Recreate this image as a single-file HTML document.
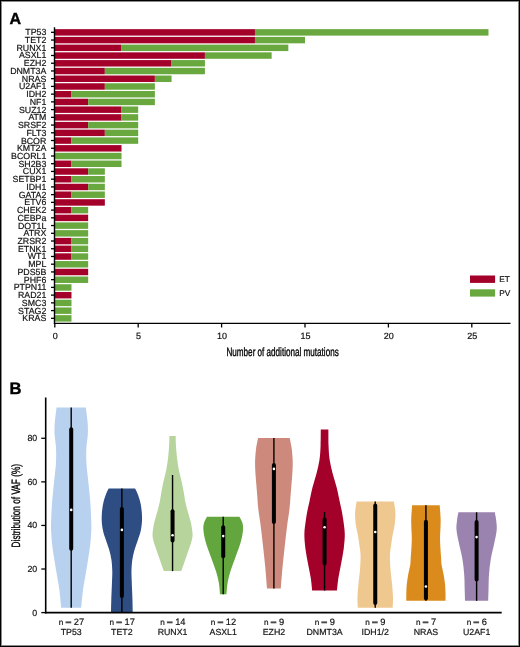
<!DOCTYPE html><html><head><meta charset="utf-8"><style>
html,body{margin:0;padding:0;background:#fff;}
svg{display:block;will-change:transform;}
text{font-family:"Liberation Sans",sans-serif;fill:#111;stroke:#111;stroke-width:0.18px;text-rendering:geometricPrecision;}
</style></head><body>
<svg width="520" height="647" viewBox="0 0 520 647">
<rect x="0" y="0" width="520" height="647" fill="#fff"/>
<rect x="1.5" y="1.5" width="517" height="644" fill="none" stroke="#8a8a8a" stroke-width="1"/>
<rect x="0.5" y="0.5" width="519" height="646" fill="none" stroke="#000" stroke-width="1"/>
<text x="9.6" y="24.2" style="font-size:16px;font-weight:bold;fill:#000;stroke:#000;stroke-width:0.4">A</text>
<rect x="54.80" y="29.15" width="200.16" height="6.45" fill="#A3002A"/>
<rect x="254.96" y="29.15" width="233.52" height="6.45" fill="#68A83F"/>
<line x1="51" y1="32.30" x2="54.5" y2="32.30" stroke="#000" stroke-width="1.3"/>
<text x="46.3" y="35.30" text-anchor="end" style="font-size:8.8px">TP53</text>
<rect x="54.80" y="36.88" width="200.16" height="6.45" fill="#A3002A"/>
<rect x="254.96" y="36.88" width="50.04" height="6.45" fill="#68A83F"/>
<line x1="51" y1="40.03" x2="54.5" y2="40.03" stroke="#000" stroke-width="1.3"/>
<text x="46.3" y="43.03" text-anchor="end" style="font-size:8.8px">TET2</text>
<rect x="54.80" y="44.61" width="66.72" height="6.45" fill="#A3002A"/>
<rect x="121.52" y="44.61" width="166.80" height="6.45" fill="#68A83F"/>
<line x1="51" y1="47.76" x2="54.5" y2="47.76" stroke="#000" stroke-width="1.3"/>
<text x="46.3" y="50.76" text-anchor="end" style="font-size:8.8px">RUNX1</text>
<rect x="54.80" y="52.34" width="150.12" height="6.45" fill="#A3002A"/>
<rect x="204.92" y="52.34" width="66.72" height="6.45" fill="#68A83F"/>
<line x1="51" y1="55.49" x2="54.5" y2="55.49" stroke="#000" stroke-width="1.3"/>
<text x="46.3" y="58.49" text-anchor="end" style="font-size:8.8px">ASXL1</text>
<rect x="54.80" y="60.07" width="116.76" height="6.45" fill="#A3002A"/>
<rect x="171.56" y="60.07" width="33.36" height="6.45" fill="#68A83F"/>
<line x1="51" y1="63.22" x2="54.5" y2="63.22" stroke="#000" stroke-width="1.3"/>
<text x="46.3" y="66.22" text-anchor="end" style="font-size:8.8px">EZH2</text>
<rect x="54.80" y="67.80" width="50.04" height="6.45" fill="#A3002A"/>
<rect x="104.84" y="67.80" width="100.08" height="6.45" fill="#68A83F"/>
<line x1="51" y1="70.95" x2="54.5" y2="70.95" stroke="#000" stroke-width="1.3"/>
<text x="46.3" y="73.95" text-anchor="end" style="font-size:8.8px">DNMT3A</text>
<rect x="54.80" y="75.53" width="100.08" height="6.45" fill="#A3002A"/>
<rect x="154.88" y="75.53" width="16.68" height="6.45" fill="#68A83F"/>
<line x1="51" y1="78.68" x2="54.5" y2="78.68" stroke="#000" stroke-width="1.3"/>
<text x="46.3" y="81.68" text-anchor="end" style="font-size:8.8px">NRAS</text>
<rect x="54.80" y="83.26" width="50.04" height="6.45" fill="#A3002A"/>
<rect x="104.84" y="83.26" width="50.04" height="6.45" fill="#68A83F"/>
<line x1="51" y1="86.41" x2="54.5" y2="86.41" stroke="#000" stroke-width="1.3"/>
<text x="46.3" y="89.41" text-anchor="end" style="font-size:8.8px">U2AF1</text>
<rect x="54.80" y="90.99" width="16.68" height="6.45" fill="#A3002A"/>
<rect x="71.48" y="90.99" width="83.40" height="6.45" fill="#68A83F"/>
<line x1="51" y1="94.14" x2="54.5" y2="94.14" stroke="#000" stroke-width="1.3"/>
<text x="46.3" y="97.14" text-anchor="end" style="font-size:8.8px">IDH2</text>
<rect x="54.80" y="98.72" width="33.36" height="6.45" fill="#A3002A"/>
<rect x="88.16" y="98.72" width="66.72" height="6.45" fill="#68A83F"/>
<line x1="51" y1="101.87" x2="54.5" y2="101.87" stroke="#000" stroke-width="1.3"/>
<text x="46.3" y="104.87" text-anchor="end" style="font-size:8.8px">NF1</text>
<rect x="54.80" y="106.45" width="66.72" height="6.45" fill="#A3002A"/>
<rect x="121.52" y="106.45" width="16.68" height="6.45" fill="#68A83F"/>
<line x1="51" y1="109.60" x2="54.5" y2="109.60" stroke="#000" stroke-width="1.3"/>
<text x="46.3" y="112.60" text-anchor="end" style="font-size:8.8px">SUZ12</text>
<rect x="54.80" y="114.18" width="66.72" height="6.45" fill="#A3002A"/>
<rect x="121.52" y="114.18" width="16.68" height="6.45" fill="#68A83F"/>
<line x1="51" y1="117.33" x2="54.5" y2="117.33" stroke="#000" stroke-width="1.3"/>
<text x="46.3" y="120.33" text-anchor="end" style="font-size:8.8px">ATM</text>
<rect x="54.80" y="121.91" width="33.36" height="6.45" fill="#A3002A"/>
<rect x="88.16" y="121.91" width="50.04" height="6.45" fill="#68A83F"/>
<line x1="51" y1="125.06" x2="54.5" y2="125.06" stroke="#000" stroke-width="1.3"/>
<text x="46.3" y="128.06" text-anchor="end" style="font-size:8.8px">SRSF2</text>
<rect x="54.80" y="129.64" width="50.04" height="6.45" fill="#A3002A"/>
<rect x="104.84" y="129.64" width="33.36" height="6.45" fill="#68A83F"/>
<line x1="51" y1="132.79" x2="54.5" y2="132.79" stroke="#000" stroke-width="1.3"/>
<text x="46.3" y="135.79" text-anchor="end" style="font-size:8.8px">FLT3</text>
<rect x="54.80" y="137.37" width="16.68" height="6.45" fill="#A3002A"/>
<rect x="71.48" y="137.37" width="66.72" height="6.45" fill="#68A83F"/>
<line x1="51" y1="140.52" x2="54.5" y2="140.52" stroke="#000" stroke-width="1.3"/>
<text x="46.3" y="143.52" text-anchor="end" style="font-size:8.8px">BCOR</text>
<rect x="54.80" y="145.10" width="66.72" height="6.45" fill="#A3002A"/>
<line x1="51" y1="148.25" x2="54.5" y2="148.25" stroke="#000" stroke-width="1.3"/>
<text x="46.3" y="151.25" text-anchor="end" style="font-size:8.8px">KMT2A</text>
<rect x="54.80" y="152.83" width="66.72" height="6.45" fill="#68A83F"/>
<line x1="51" y1="155.98" x2="54.5" y2="155.98" stroke="#000" stroke-width="1.3"/>
<text x="46.3" y="158.98" text-anchor="end" style="font-size:8.8px">BCORL1</text>
<rect x="54.80" y="160.56" width="16.68" height="6.45" fill="#A3002A"/>
<rect x="71.48" y="160.56" width="50.04" height="6.45" fill="#68A83F"/>
<line x1="51" y1="163.71" x2="54.5" y2="163.71" stroke="#000" stroke-width="1.3"/>
<text x="46.3" y="166.71" text-anchor="end" style="font-size:8.8px">SH2B3</text>
<rect x="54.80" y="168.29" width="33.36" height="6.45" fill="#A3002A"/>
<rect x="88.16" y="168.29" width="16.68" height="6.45" fill="#68A83F"/>
<line x1="51" y1="171.44" x2="54.5" y2="171.44" stroke="#000" stroke-width="1.3"/>
<text x="46.3" y="174.44" text-anchor="end" style="font-size:8.8px">CUX1</text>
<rect x="54.80" y="176.02" width="16.68" height="6.45" fill="#A3002A"/>
<rect x="71.48" y="176.02" width="33.36" height="6.45" fill="#68A83F"/>
<line x1="51" y1="179.17" x2="54.5" y2="179.17" stroke="#000" stroke-width="1.3"/>
<text x="46.3" y="182.17" text-anchor="end" style="font-size:8.8px">SETBP1</text>
<rect x="54.80" y="183.75" width="33.36" height="6.45" fill="#A3002A"/>
<rect x="88.16" y="183.75" width="16.68" height="6.45" fill="#68A83F"/>
<line x1="51" y1="186.90" x2="54.5" y2="186.90" stroke="#000" stroke-width="1.3"/>
<text x="46.3" y="189.90" text-anchor="end" style="font-size:8.8px">IDH1</text>
<rect x="54.80" y="191.48" width="16.68" height="6.45" fill="#A3002A"/>
<rect x="71.48" y="191.48" width="33.36" height="6.45" fill="#68A83F"/>
<line x1="51" y1="194.63" x2="54.5" y2="194.63" stroke="#000" stroke-width="1.3"/>
<text x="46.3" y="197.63" text-anchor="end" style="font-size:8.8px">GATA2</text>
<rect x="54.80" y="199.21" width="50.04" height="6.45" fill="#A3002A"/>
<line x1="51" y1="202.36" x2="54.5" y2="202.36" stroke="#000" stroke-width="1.3"/>
<text x="46.3" y="205.36" text-anchor="end" style="font-size:8.8px">ETV6</text>
<rect x="54.80" y="206.94" width="16.68" height="6.45" fill="#A3002A"/>
<rect x="71.48" y="206.94" width="16.68" height="6.45" fill="#68A83F"/>
<line x1="51" y1="210.09" x2="54.5" y2="210.09" stroke="#000" stroke-width="1.3"/>
<text x="46.3" y="213.09" text-anchor="end" style="font-size:8.8px">CHEK2</text>
<rect x="54.80" y="214.67" width="33.36" height="6.45" fill="#A3002A"/>
<line x1="51" y1="217.82" x2="54.5" y2="217.82" stroke="#000" stroke-width="1.3"/>
<text x="46.3" y="220.82" text-anchor="end" style="font-size:8.8px">CEBPa</text>
<rect x="54.80" y="222.40" width="33.36" height="6.45" fill="#68A83F"/>
<line x1="51" y1="225.55" x2="54.5" y2="225.55" stroke="#000" stroke-width="1.3"/>
<text x="46.3" y="228.55" text-anchor="end" style="font-size:8.8px">DOT1L</text>
<rect x="54.80" y="230.13" width="33.36" height="6.45" fill="#68A83F"/>
<line x1="51" y1="233.28" x2="54.5" y2="233.28" stroke="#000" stroke-width="1.3"/>
<text x="46.3" y="236.28" text-anchor="end" style="font-size:8.8px">ATRX</text>
<rect x="54.80" y="237.86" width="16.68" height="6.45" fill="#A3002A"/>
<rect x="71.48" y="237.86" width="16.68" height="6.45" fill="#68A83F"/>
<line x1="51" y1="241.01" x2="54.5" y2="241.01" stroke="#000" stroke-width="1.3"/>
<text x="46.3" y="244.01" text-anchor="end" style="font-size:8.8px">ZRSR2</text>
<rect x="54.80" y="245.59" width="16.68" height="6.45" fill="#A3002A"/>
<rect x="71.48" y="245.59" width="16.68" height="6.45" fill="#68A83F"/>
<line x1="51" y1="248.74" x2="54.5" y2="248.74" stroke="#000" stroke-width="1.3"/>
<text x="46.3" y="251.74" text-anchor="end" style="font-size:8.8px">ETNK1</text>
<rect x="54.80" y="253.32" width="16.68" height="6.45" fill="#A3002A"/>
<rect x="71.48" y="253.32" width="16.68" height="6.45" fill="#68A83F"/>
<line x1="51" y1="256.47" x2="54.5" y2="256.47" stroke="#000" stroke-width="1.3"/>
<text x="46.3" y="259.47" text-anchor="end" style="font-size:8.8px">WT1</text>
<rect x="54.80" y="261.05" width="33.36" height="6.45" fill="#68A83F"/>
<line x1="51" y1="264.20" x2="54.5" y2="264.20" stroke="#000" stroke-width="1.3"/>
<text x="46.3" y="267.20" text-anchor="end" style="font-size:8.8px">MPL</text>
<rect x="54.80" y="268.78" width="33.36" height="6.45" fill="#A3002A"/>
<line x1="51" y1="271.93" x2="54.5" y2="271.93" stroke="#000" stroke-width="1.3"/>
<text x="46.3" y="274.93" text-anchor="end" style="font-size:8.8px">PDS5B</text>
<rect x="54.80" y="276.51" width="33.36" height="6.45" fill="#68A83F"/>
<line x1="51" y1="279.66" x2="54.5" y2="279.66" stroke="#000" stroke-width="1.3"/>
<text x="46.3" y="282.66" text-anchor="end" style="font-size:8.8px">PHF6</text>
<rect x="54.80" y="284.24" width="16.68" height="6.45" fill="#68A83F"/>
<line x1="51" y1="287.39" x2="54.5" y2="287.39" stroke="#000" stroke-width="1.3"/>
<text x="46.3" y="290.39" text-anchor="end" style="font-size:8.8px">PTPN11</text>
<rect x="54.80" y="291.97" width="16.68" height="6.45" fill="#A3002A"/>
<line x1="51" y1="295.12" x2="54.5" y2="295.12" stroke="#000" stroke-width="1.3"/>
<text x="46.3" y="298.12" text-anchor="end" style="font-size:8.8px">RAD21</text>
<rect x="54.80" y="299.70" width="16.68" height="6.45" fill="#68A83F"/>
<line x1="51" y1="302.85" x2="54.5" y2="302.85" stroke="#000" stroke-width="1.3"/>
<text x="46.3" y="305.85" text-anchor="end" style="font-size:8.8px">SMC3</text>
<rect x="54.80" y="307.43" width="16.68" height="6.45" fill="#68A83F"/>
<line x1="51" y1="310.58" x2="54.5" y2="310.58" stroke="#000" stroke-width="1.3"/>
<text x="46.3" y="313.58" text-anchor="end" style="font-size:8.8px">STAG2</text>
<rect x="54.80" y="315.16" width="16.68" height="6.45" fill="#68A83F"/>
<line x1="51" y1="318.31" x2="54.5" y2="318.31" stroke="#000" stroke-width="1.3"/>
<text x="46.3" y="321.31" text-anchor="end" style="font-size:8.8px">KRAS</text>
<line x1="54.5" y1="27.3" x2="54.5" y2="324.0" stroke="#000" stroke-width="1.4"/>
<line x1="53.9" y1="323.4" x2="510.5" y2="323.4" stroke="#000" stroke-width="1.3"/>
<line x1="54.80" y1="323.4" x2="54.80" y2="327.5" stroke="#000" stroke-width="1.3"/>
<text x="55.20" y="339.0" text-anchor="middle" style="font-size:9px">0</text>
<line x1="138.20" y1="323.4" x2="138.20" y2="327.5" stroke="#000" stroke-width="1.3"/>
<text x="138.60" y="339.0" text-anchor="middle" style="font-size:9px">5</text>
<line x1="221.60" y1="323.4" x2="221.60" y2="327.5" stroke="#000" stroke-width="1.3"/>
<text x="222.00" y="339.0" text-anchor="middle" style="font-size:9px">10</text>
<line x1="305.00" y1="323.4" x2="305.00" y2="327.5" stroke="#000" stroke-width="1.3"/>
<text x="305.40" y="339.0" text-anchor="middle" style="font-size:9px">15</text>
<line x1="388.40" y1="323.4" x2="388.40" y2="327.5" stroke="#000" stroke-width="1.3"/>
<text x="388.80" y="339.0" text-anchor="middle" style="font-size:9px">20</text>
<line x1="471.80" y1="323.4" x2="471.80" y2="327.5" stroke="#000" stroke-width="1.3"/>
<text x="472.20" y="339.0" text-anchor="middle" style="font-size:9px">25</text>
<rect x="470" y="275.5" width="25.1" height="7.4" fill="#A3002A"/>
<rect x="470" y="289.3" width="25.1" height="7.3" fill="#68A83F"/>
<text x="499.3" y="281.9" style="font-size:8.3px">ET</text>
<text x="499.3" y="296.1" style="font-size:8.3px">PV</text>
<text x="226.5" y="355.7" style="font-size:12px;fill:#000;stroke:#000;stroke-width:0.35" textLength="112.2" lengthAdjust="spacingAndGlyphs">Number of additional mutations</text>
<text x="9.5" y="393.6" style="font-size:16.6px;font-weight:bold;fill:#000;stroke:#000;stroke-width:0.4">B</text>
<line x1="41.3" y1="612.60" x2="45.7" y2="612.60" stroke="#000" stroke-width="1.3"/>
<text x="37.2" y="615.50" text-anchor="end" style="font-size:8.8px">0</text>
<line x1="41.3" y1="569.02" x2="45.7" y2="569.02" stroke="#000" stroke-width="1.3"/>
<text x="37.2" y="571.92" text-anchor="end" style="font-size:8.8px">20</text>
<line x1="41.3" y1="525.44" x2="45.7" y2="525.44" stroke="#000" stroke-width="1.3"/>
<text x="37.2" y="528.34" text-anchor="end" style="font-size:8.8px">40</text>
<line x1="41.3" y1="481.86" x2="45.7" y2="481.86" stroke="#000" stroke-width="1.3"/>
<text x="37.2" y="484.76" text-anchor="end" style="font-size:8.8px">60</text>
<line x1="41.3" y1="438.28" x2="45.7" y2="438.28" stroke="#000" stroke-width="1.3"/>
<text x="37.2" y="441.18" text-anchor="end" style="font-size:8.8px">80</text>
<text transform="translate(19.7,547.4) rotate(-90)" style="font-size:12.1px;fill:#000;stroke:#000;stroke-width:0.35" textLength="83.4" lengthAdjust="spacingAndGlyphs">Distribution of VAF (%)</text>
<path d="M71.20,407.50 L85.80,407.50 C85.97,408.75 86.47,412.08 86.80,415.00 C87.13,417.92 87.63,421.67 87.80,425.00 C87.97,428.33 88.00,431.67 87.80,435.00 C87.60,438.33 86.87,441.67 86.60,445.00 C86.33,448.33 86.20,451.67 86.20,455.00 C86.20,458.33 86.37,461.67 86.60,465.00 C86.83,468.33 87.17,470.83 87.60,475.00 C88.03,479.17 88.72,485.00 89.20,490.00 C89.68,495.00 90.17,500.00 90.50,505.00 C90.83,510.00 91.07,515.83 91.20,520.00 C91.33,524.17 91.47,525.83 91.30,530.00 C91.13,534.17 90.75,540.00 90.20,545.00 C89.65,550.00 88.78,555.00 88.00,560.00 C87.22,565.00 86.33,570.00 85.50,575.00 C84.67,580.00 83.72,584.55 83.00,590.00 C82.28,595.45 81.50,604.75 81.20,607.70 L61.20,607.70 C60.90,604.75 60.12,595.45 59.40,590.00 C58.68,584.55 57.73,580.00 56.90,575.00 C56.07,570.00 55.18,565.00 54.40,560.00 C53.62,555.00 52.75,550.00 52.20,545.00 C51.65,540.00 51.27,534.17 51.10,530.00 C50.93,525.83 51.07,524.17 51.20,520.00 C51.33,515.83 51.57,510.00 51.90,505.00 C52.23,500.00 52.72,495.00 53.20,490.00 C53.68,485.00 54.37,479.17 54.80,475.00 C55.23,470.83 55.57,468.33 55.80,465.00 C56.03,461.67 56.20,458.33 56.20,455.00 C56.20,451.67 56.07,448.33 55.80,445.00 C55.53,441.67 54.80,438.33 54.60,435.00 C54.40,431.67 54.43,428.33 54.60,425.00 C54.77,421.67 55.27,417.92 55.60,415.00 C55.93,412.08 56.43,408.75 56.60,407.50 Z" fill="#B8D1EF"/>
<line x1="71.20" y1="407.4" x2="71.20" y2="607.7" stroke="#000" stroke-width="1.4"/>
<line x1="71.20" y1="429.2" x2="71.20" y2="548.8" stroke="#000" stroke-width="4" stroke-linecap="round"/>
<circle cx="71.20" cy="509.9" r="1.3" fill="#fff"/>
<text x="58.85" y="624.9" style="font-size:8.2px">n</text>
<rect x="65.55" y="621.4" width="5.7" height="1.9" fill="#4a4a4a"/>
<text x="73.85" y="624.9" style="font-size:9.3px">27</text>
<text x="71.20" y="635.3" text-anchor="middle" style="font-size:8.8px">TP53</text>
<path d="M121.88,488.60 L135.07,488.60 C135.57,489.67 137.11,492.27 138.07,495.00 C139.04,497.73 140.21,501.17 140.88,505.00 C141.54,508.83 142.07,513.83 142.07,518.00 C142.07,522.17 141.57,526.33 140.88,530.00 C140.18,533.67 138.94,536.67 137.88,540.00 C136.81,543.33 135.41,546.67 134.47,550.00 C133.54,553.33 132.78,556.50 132.28,560.00 C131.78,563.50 131.57,567.67 131.47,571.00 C131.38,574.33 131.58,576.83 131.68,580.00 C131.78,583.17 131.94,586.67 132.07,590.00 C132.21,593.33 132.36,596.23 132.47,600.00 C132.59,603.77 132.72,610.50 132.78,612.60 L110.97,612.60 C111.02,610.50 111.16,603.77 111.28,600.00 C111.39,596.23 111.54,593.33 111.67,590.00 C111.81,586.67 111.97,583.17 112.08,580.00 C112.18,576.83 112.38,574.33 112.28,571.00 C112.18,567.67 111.97,563.50 111.47,560.00 C110.97,556.50 110.21,553.33 109.28,550.00 C108.34,546.67 106.94,543.33 105.88,540.00 C104.81,536.67 103.58,533.67 102.88,530.00 C102.17,526.33 101.67,522.17 101.67,518.00 C101.67,513.83 102.21,508.83 102.88,505.00 C103.54,501.17 104.71,497.73 105.67,495.00 C106.64,492.27 108.17,489.67 108.67,488.60 Z" fill="#2E4D82"/>
<line x1="121.88" y1="488.6" x2="121.88" y2="612.6" stroke="#000" stroke-width="1.4"/>
<line x1="121.88" y1="509" x2="121.88" y2="596" stroke="#000" stroke-width="4" stroke-linecap="round"/>
<circle cx="121.88" cy="529.9" r="1.3" fill="#fff"/>
<text x="109.53" y="624.9" style="font-size:8.2px">n</text>
<rect x="116.23" y="621.4" width="5.7" height="1.9" fill="#4a4a4a"/>
<text x="124.53" y="624.9" style="font-size:9.3px">17</text>
<text x="121.88" y="635.3" text-anchor="middle" style="font-size:8.8px">TET2</text>
<path d="M172.55,436.00 L175.65,436.00 C175.72,437.83 175.80,443.17 176.05,447.00 C176.30,450.83 176.67,455.07 177.15,459.00 C177.63,462.93 178.18,466.77 178.95,470.60 C179.72,474.43 180.90,478.10 181.75,482.00 C182.60,485.90 183.45,490.67 184.05,494.00 C184.65,497.33 184.73,499.07 185.35,502.00 C185.97,504.93 186.82,508.10 187.75,511.60 C188.68,515.10 190.22,519.93 190.95,523.00 C191.68,526.07 191.88,528.00 192.15,530.00 C192.42,532.00 192.58,533.42 192.55,535.00 C192.52,536.58 192.38,537.62 191.95,539.50 C191.52,541.38 190.97,543.22 189.95,546.30 C188.93,549.38 187.20,554.13 185.85,558.00 C184.50,561.87 182.63,567.32 181.85,569.50 C181.07,571.68 181.27,570.83 181.15,571.10 L163.95,571.10 C163.83,570.83 164.03,571.68 163.25,569.50 C162.47,567.32 160.60,561.87 159.25,558.00 C157.90,554.13 156.17,549.38 155.15,546.30 C154.13,543.22 153.58,541.38 153.15,539.50 C152.72,537.62 152.58,536.58 152.55,535.00 C152.52,533.42 152.68,532.00 152.95,530.00 C153.22,528.00 153.42,526.07 154.15,523.00 C154.88,519.93 156.42,515.10 157.35,511.60 C158.28,508.10 159.13,504.93 159.75,502.00 C160.37,499.07 160.45,497.33 161.05,494.00 C161.65,490.67 162.50,485.90 163.35,482.00 C164.20,478.10 165.38,474.43 166.15,470.60 C166.92,466.77 167.47,462.93 167.95,459.00 C168.43,455.07 168.80,450.83 169.05,447.00 C169.30,443.17 169.38,437.83 169.45,436.00 Z" fill="#B6D49B"/>
<line x1="172.55" y1="475" x2="172.55" y2="571.1" stroke="#000" stroke-width="1.4"/>
<line x1="172.55" y1="511.3" x2="172.55" y2="540.6" stroke="#000" stroke-width="4" stroke-linecap="round"/>
<circle cx="172.55" cy="535.2" r="1.3" fill="#fff"/>
<text x="160.20" y="624.9" style="font-size:8.2px">n</text>
<rect x="166.90" y="621.4" width="5.7" height="1.9" fill="#4a4a4a"/>
<text x="175.20" y="624.9" style="font-size:9.3px">14</text>
<text x="172.55" y="635.3" text-anchor="middle" style="font-size:8.8px">RUNX1</text>
<path d="M223.22,516.70 L239.42,516.70 C239.91,517.68 241.72,520.38 242.32,522.60 C242.92,524.82 243.27,526.82 243.02,530.00 C242.77,533.18 242.04,537.30 240.82,541.70 C239.61,546.10 237.44,551.52 235.72,556.40 C234.01,561.28 231.87,566.60 230.52,571.00 C229.17,575.40 228.31,578.92 227.62,582.80 C226.94,586.68 226.62,592.38 226.42,594.30 L220.02,594.30 C219.82,592.38 219.51,586.68 218.82,582.80 C218.14,578.92 217.27,575.40 215.92,571.00 C214.57,566.60 212.44,561.28 210.72,556.40 C209.01,551.52 206.84,546.10 205.62,541.70 C204.41,537.30 203.67,533.18 203.42,530.00 C203.17,526.82 203.52,524.82 204.12,522.60 C204.72,520.38 206.54,517.68 207.02,516.70 Z" fill="#63A63D"/>
<line x1="223.22" y1="516.7" x2="223.22" y2="594.3" stroke="#000" stroke-width="1.4"/>
<line x1="223.22" y1="527.3" x2="223.22" y2="556.2" stroke="#000" stroke-width="4" stroke-linecap="round"/>
<circle cx="223.22" cy="536.1" r="1.3" fill="#fff"/>
<text x="210.87" y="624.9" style="font-size:8.2px">n</text>
<rect x="217.57" y="621.4" width="5.7" height="1.9" fill="#4a4a4a"/>
<text x="225.87" y="624.9" style="font-size:9.3px">12</text>
<text x="223.22" y="635.3" text-anchor="middle" style="font-size:8.8px">ASXL1</text>
<path d="M273.90,438.00 L289.70,438.00 C290.03,439.75 291.20,444.67 291.70,448.50 C292.20,452.33 292.58,456.92 292.70,461.00 C292.82,465.08 292.62,468.90 292.40,473.00 C292.18,477.10 291.73,481.43 291.40,485.60 C291.07,489.77 290.72,494.10 290.40,498.00 C290.08,501.90 290.05,504.33 289.50,509.00 C288.95,513.67 287.90,519.72 287.10,526.00 C286.30,532.28 285.47,539.77 284.70,546.70 C283.93,553.63 283.15,560.65 282.50,567.60 C281.85,574.55 281.08,584.93 280.80,588.40 L267.00,588.40 C266.72,584.93 265.95,574.55 265.30,567.60 C264.65,560.65 263.87,553.63 263.10,546.70 C262.33,539.77 261.50,532.28 260.70,526.00 C259.90,519.72 258.85,513.67 258.30,509.00 C257.75,504.33 257.72,501.90 257.40,498.00 C257.08,494.10 256.73,489.77 256.40,485.60 C256.07,481.43 255.62,477.10 255.40,473.00 C255.18,468.90 254.98,465.08 255.10,461.00 C255.22,456.92 255.60,452.33 256.10,448.50 C256.60,444.67 257.77,439.75 258.10,438.00 Z" fill="#CD8A7C"/>
<line x1="273.90" y1="438" x2="273.90" y2="588.4" stroke="#000" stroke-width="1.4"/>
<line x1="273.90" y1="465.1" x2="273.90" y2="521.9" stroke="#000" stroke-width="4" stroke-linecap="round"/>
<circle cx="273.90" cy="468.9" r="1.3" fill="#fff"/>
<text x="263.97" y="624.9" style="font-size:8.2px">n</text>
<rect x="270.67" y="621.4" width="5.7" height="1.9" fill="#4a4a4a"/>
<text x="278.97" y="624.9" style="font-size:9.3px">9</text>
<text x="273.90" y="635.3" text-anchor="middle" style="font-size:8.8px">EZH2</text>
<path d="M324.57,429.60 L328.38,429.60 C328.41,432.33 328.36,440.93 328.57,446.00 C328.79,451.07 328.98,455.33 329.68,460.00 C330.38,464.67 331.61,469.40 332.77,474.00 C333.94,478.60 335.52,483.02 336.68,487.60 C337.83,492.18 338.86,497.77 339.68,501.50 C340.49,505.23 340.98,506.92 341.57,510.00 C342.17,513.08 342.74,516.00 343.27,520.00 C343.81,524.00 344.71,529.17 344.77,534.00 C344.84,538.83 344.29,544.00 343.68,549.00 C343.06,554.00 341.96,559.17 341.07,564.00 C340.19,568.83 339.06,573.58 338.38,578.00 C337.69,582.42 337.21,588.42 336.97,590.50 L312.18,590.50 C311.94,588.42 311.46,582.42 310.77,578.00 C310.09,573.58 308.96,568.83 308.07,564.00 C307.19,559.17 306.09,554.00 305.47,549.00 C304.86,544.00 304.31,538.83 304.38,534.00 C304.44,529.17 305.34,524.00 305.88,520.00 C306.41,516.00 306.98,513.08 307.57,510.00 C308.17,506.92 308.66,505.23 309.47,501.50 C310.29,497.77 311.32,492.18 312.47,487.60 C313.62,483.02 315.21,478.60 316.38,474.00 C317.54,469.40 318.77,464.67 319.47,460.00 C320.17,455.33 320.36,451.07 320.57,446.00 C320.79,440.93 320.74,432.33 320.77,429.60 Z" fill="#A3002A"/>
<line x1="324.57" y1="512" x2="324.57" y2="590.5" stroke="#000" stroke-width="1.4"/>
<line x1="324.57" y1="519.5" x2="324.57" y2="563.5" stroke="#000" stroke-width="4" stroke-linecap="round"/>
<circle cx="324.57" cy="527.3" r="1.3" fill="#fff"/>
<text x="314.65" y="624.9" style="font-size:8.2px">n</text>
<rect x="321.35" y="621.4" width="5.7" height="1.9" fill="#4a4a4a"/>
<text x="329.65" y="624.9" style="font-size:9.3px">9</text>
<text x="324.57" y="635.3" text-anchor="middle" style="font-size:8.8px">DNMT3A</text>
<path d="M375.25,501.50 L393.85,501.50 C394.03,502.58 394.68,505.75 394.95,508.00 C395.22,510.25 395.50,512.17 395.45,515.00 C395.40,517.83 395.12,521.67 394.65,525.00 C394.18,528.33 393.23,531.67 392.65,535.00 C392.07,538.33 391.60,541.67 391.15,545.00 C390.70,548.33 390.07,551.00 389.95,555.00 C389.83,559.00 390.10,564.17 390.45,569.00 C390.80,573.83 391.62,579.17 392.05,584.00 C392.48,588.83 392.95,594.05 393.05,598.00 C393.15,601.95 392.72,606.08 392.65,607.70 L357.85,607.70 C357.78,606.08 357.35,601.95 357.45,598.00 C357.55,594.05 358.02,588.83 358.45,584.00 C358.88,579.17 359.70,573.83 360.05,569.00 C360.40,564.17 360.67,559.00 360.55,555.00 C360.43,551.00 359.80,548.33 359.35,545.00 C358.90,541.67 358.43,538.33 357.85,535.00 C357.27,531.67 356.32,528.33 355.85,525.00 C355.38,521.67 355.10,517.83 355.05,515.00 C355.00,512.17 355.28,510.25 355.55,508.00 C355.82,505.75 356.47,502.58 356.65,501.50 Z" fill="#EFC88F"/>
<line x1="375.25" y1="501.5" x2="375.25" y2="607.7" stroke="#000" stroke-width="1.4"/>
<line x1="375.25" y1="505.5" x2="375.25" y2="603" stroke="#000" stroke-width="4" stroke-linecap="round"/>
<circle cx="375.25" cy="532" r="1.3" fill="#fff"/>
<text x="365.32" y="624.9" style="font-size:8.2px">n</text>
<rect x="372.02" y="621.4" width="5.7" height="1.9" fill="#4a4a4a"/>
<text x="380.32" y="624.9" style="font-size:9.3px">9</text>
<text x="375.25" y="635.3" text-anchor="middle" style="font-size:8.8px">IDH1/2</text>
<path d="M425.92,505.30 L439.72,505.30 C439.87,507.58 440.51,515.05 440.62,519.00 C440.74,522.95 440.52,525.75 440.42,529.00 C440.32,532.25 440.02,535.33 440.02,538.50 C440.02,541.67 440.24,544.75 440.42,548.00 C440.61,551.25 440.92,555.17 441.12,558.00 C441.32,560.83 441.22,562.33 441.62,565.00 C442.02,567.67 442.96,570.83 443.52,574.00 C444.09,577.17 444.69,580.75 445.02,584.00 C445.36,587.25 445.44,590.72 445.52,593.50 C445.61,596.28 445.52,599.50 445.52,600.70 L406.32,600.70 C406.32,599.50 406.24,596.28 406.32,593.50 C406.41,590.72 406.49,587.25 406.82,584.00 C407.16,580.75 407.76,577.17 408.32,574.00 C408.89,570.83 409.82,567.67 410.22,565.00 C410.62,562.33 410.52,560.83 410.72,558.00 C410.92,555.17 411.24,551.25 411.42,548.00 C411.61,544.75 411.82,541.67 411.82,538.50 C411.82,535.33 411.52,532.25 411.42,529.00 C411.32,525.75 411.11,522.95 411.22,519.00 C411.34,515.05 411.97,507.58 412.12,505.30 Z" fill="#DB8B1B"/>
<line x1="425.92" y1="505.3" x2="425.92" y2="600.7" stroke="#000" stroke-width="1.4"/>
<line x1="425.92" y1="521.7" x2="425.92" y2="598.2" stroke="#000" stroke-width="4" stroke-linecap="round"/>
<circle cx="425.92" cy="586.5" r="1.3" fill="#fff"/>
<text x="416.00" y="624.9" style="font-size:8.2px">n</text>
<rect x="422.70" y="621.4" width="5.7" height="1.9" fill="#4a4a4a"/>
<text x="431.00" y="624.9" style="font-size:9.3px">7</text>
<text x="425.92" y="635.3" text-anchor="middle" style="font-size:8.8px">NRAS</text>
<path d="M476.60,512.30 L494.80,512.30 C495.03,513.67 495.88,517.55 496.20,520.50 C496.52,523.45 497.03,526.15 496.70,530.00 C496.37,533.85 495.18,538.77 494.20,543.60 C493.22,548.43 491.67,553.83 490.80,559.00 C489.93,564.17 489.38,569.43 489.00,574.60 C488.62,579.77 488.63,585.63 488.50,590.00 C488.37,594.37 488.25,599.00 488.20,600.80 L465.00,600.80 C464.95,599.00 464.83,594.37 464.70,590.00 C464.57,585.63 464.58,579.77 464.20,574.60 C463.82,569.43 463.27,564.17 462.40,559.00 C461.53,553.83 459.98,548.43 459.00,543.60 C458.02,538.77 456.83,533.85 456.50,530.00 C456.17,526.15 456.68,523.45 457.00,520.50 C457.32,517.55 458.17,513.67 458.40,512.30 Z" fill="#9A83AE"/>
<line x1="476.60" y1="512.3" x2="476.60" y2="600.8" stroke="#000" stroke-width="1.4"/>
<line x1="476.60" y1="522" x2="476.60" y2="579.5" stroke="#000" stroke-width="4" stroke-linecap="round"/>
<circle cx="476.60" cy="537.1" r="1.3" fill="#fff"/>
<text x="466.67" y="624.9" style="font-size:8.2px">n</text>
<rect x="473.37" y="621.4" width="5.7" height="1.9" fill="#4a4a4a"/>
<text x="481.67" y="624.9" style="font-size:9.3px">6</text>
<text x="476.60" y="635.3" text-anchor="middle" style="font-size:8.8px">U2AF1</text>
<line x1="45.7" y1="397.5" x2="45.7" y2="613.4" stroke="#000" stroke-width="1.6"/>
<line x1="44.900000000000006" y1="612.6" x2="501.7" y2="612.6" stroke="#000" stroke-width="1.6"/>
</svg></body></html>
